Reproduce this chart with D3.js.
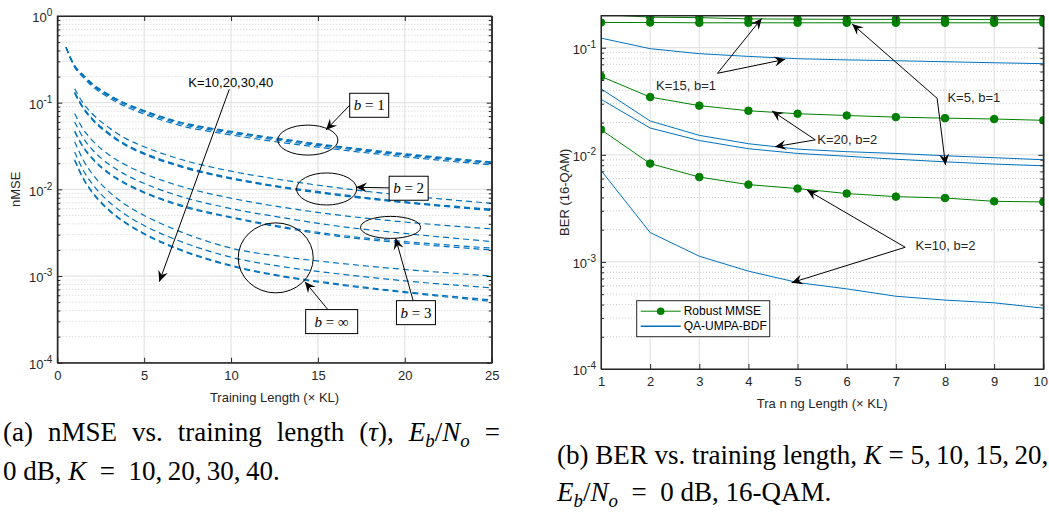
<!DOCTYPE html>
<html>
<head>
<meta charset="utf-8">
<script src="https://cdn.jsdelivr.net/npm/d3@7/dist/d3.min.js"></script>
<style>
  body { margin: 0; background: #fff; }
  svg { display: block; font-family: "Liberation Sans", Arial, sans-serif; }
</style>
</head>
<body>
<svg id="fig" width="1049" height="516"></svg>
<script>
// ---------- (a) nMSE vs. training length ----------
const lenB1 = [0.5, 1, 1.5, 2, 3, 4, 5, 7, 10, 13, 16, 20, 25];
const lenQ = [1, 1.5, 2, 3, 4, 5, 7, 10, 13, 16, 20, 25];
// one row per K = 10, 20, 30, 40
const nmseB1 = [
  [0.435, 0.255, 0.195, 0.155, 0.113, 0.089, 0.074, 0.055, 0.0425, 0.0345, 0.029, 0.0237, 0.0191],
  [0.435, 0.262, 0.202, 0.161, 0.118, 0.093, 0.0775, 0.0575, 0.0445, 0.0362, 0.0303, 0.0247, 0.0199],
  [0.435, 0.266, 0.206, 0.165, 0.121, 0.096, 0.080, 0.0595, 0.046, 0.0374, 0.0312, 0.0254, 0.0204],
  [0.435, 0.268, 0.208, 0.167, 0.123, 0.097, 0.081, 0.0603, 0.0467, 0.038, 0.0317, 0.0258, 0.0207]
];
const nmseB2 = [
  [0.145, 0.098, 0.075, 0.051, 0.038, 0.031, 0.0225, 0.0162, 0.0128, 0.0105, 0.0085, 0.0069],
  [0.132, 0.088, 0.066, 0.044, 0.0325, 0.0262, 0.019, 0.0136, 0.0107, 0.0089, 0.0072, 0.0059],
  [0.130, 0.0865, 0.065, 0.0432, 0.032, 0.0258, 0.0187, 0.0134, 0.0105, 0.0087, 0.0071, 0.0058],
  [0.128, 0.085, 0.064, 0.0425, 0.0315, 0.0254, 0.0184, 0.0132, 0.0104, 0.0086, 0.0070, 0.0057]
];
const nmseB3 = [
  [0.075, 0.049, 0.037, 0.0248, 0.0188, 0.0152, 0.011, 0.0079, 0.0062, 0.0051, 0.0042, 0.0035],
  [0.060, 0.039, 0.029, 0.0193, 0.0145, 0.0117, 0.0084, 0.006, 0.0047, 0.0038, 0.0031, 0.0025],
  [0.047, 0.031, 0.0232, 0.0154, 0.0116, 0.0093, 0.0067, 0.0048, 0.0037, 0.0030, 0.0025, 0.0021],
  [0.046, 0.0302, 0.0226, 0.015, 0.0113, 0.0091, 0.0065, 0.0047, 0.0036, 0.0029, 0.0024, 0.0020]
];
const nmseBinf = [
  [0.0355, 0.0217, 0.0152, 0.0093, 0.0065, 0.005, 0.0033, 0.0021, 0.00167, 0.00142, 0.00119, 0.0010],
  [0.027, 0.0165, 0.01163, 0.0071, 0.0050, 0.00382, 0.00255, 0.00165, 0.00128, 0.00107, 0.00088, 0.00073],
  [0.022, 0.0134, 0.00945, 0.00577, 0.00407, 0.0031, 0.00206, 0.00133, 0.0010, 0.00082, 0.00066, 0.00053],
  [0.0215, 0.0131, 0.0092, 0.00563, 0.00398, 0.00303, 0.00201, 0.0013, 0.00098, 0.0008, 0.000645, 0.00051]
];
const nmseTicks = [1e-4, 1e-3, 1e-2, 1e-1, 1];
const lenTicks = [0, 5, 10, 15, 20, 25];

// ---------- (b) BER vs. training length ----------
const berLen = [1, 2, 3, 4, 5, 6, 7, 8, 9, 10];
const mmseK15b1 = [0.205, 0.193, 0.191, 0.186, 0.185, 0.184, 0.184, 0.184, 0.183, 0.183];
const mmseK5b1  = [0.172, 0.172, 0.171, 0.171, 0.171, 0.171, 0.171, 0.171, 0.171, 0.171];
const mmseK20b2 = [0.054, 0.0346, 0.0288, 0.0258, 0.0242, 0.0233, 0.0225, 0.022, 0.0216, 0.021];
const mmseK10b2 = [0.0172, 0.00828, 0.0062, 0.00527, 0.00484, 0.00435, 0.00407, 0.00395, 0.00368, 0.00363];
const umpaK15b1 = [0.123, 0.098, 0.088, 0.083, 0.079, 0.077, 0.0756, 0.074, 0.0724, 0.071];
const umpaK20b2 = [0.0414, 0.0207, 0.0152, 0.0127, 0.0113, 0.0107, 0.0103, 0.0098, 0.0094, 0.009];
const umpaK5b1  = [0.033, 0.0178, 0.0136, 0.0114, 0.0103, 0.0097, 0.0091, 0.0086, 0.0082, 0.0079];
const umpaK10b2 = [0.00716, 0.00188, 0.00113, 0.00082, 0.000642, 0.00056, 0.000478, 0.00044, 0.000415, 0.00037];
const berTicks = [1e-4, 1e-3, 1e-2, 1e-1];

const blue = "#0072bd", green = "#008000", ink = "#262626";
const svg = d3.select("#fig");

function drawPanel(o) {
  const g = svg.append("g");
  const x = d3.scaleLinear().domain(o.xDomain).range([o.left, o.right]);
  const y = d3.scaleLog().domain(o.yDomain).range([o.bottom, o.top]);

  const minors = [];
  for (let e = -4; e < 1; e++) {
    for (let k = 2; k <= 9; k++) {
      const v = k * Math.pow(10, e);
      if (v > o.yDomain[0] && v < o.yDomain[1]) minors.push(v);
    }
  }
  g.append("rect").attr("x", o.left).attr("y", o.top)
    .attr("width", o.right - o.left).attr("height", o.bottom - o.top).attr("fill", "#fff");
  g.append("g").selectAll("line").data(minors).join("line")
    .attr("x1", o.left).attr("x2", o.right).attr("y1", d => y(d)).attr("y2", d => y(d))
    .attr("stroke", "#c4c4c4").attr("stroke-width", 0.8).attr("stroke-dasharray", "1,2");
  g.append("g").selectAll("line").data(o.yTicks).join("line")
    .attr("x1", o.left).attr("x2", o.right).attr("y1", d => y(d)).attr("y2", d => y(d))
    .attr("stroke", "#dedede");
  g.append("g").selectAll("line").data(o.xTicks).join("line")
    .attr("y1", o.top).attr("y2", o.bottom).attr("x1", d => x(d)).attr("x2", d => x(d))
    .attr("stroke", "#dedede");

  const clipId = "clip" + o.left;
  svg.append("clipPath").attr("id", clipId).append("rect")
    .attr("x", o.left).attr("y", o.top).attr("width", o.right - o.left).attr("height", o.bottom - o.top);
  const plot = svg.append("g").attr("clip-path", "url(#" + clipId + ")");
  return { g, x, y, minors, plot };
}

function drawAxes(p, o) {
  const { x, y, minors } = p;
  const a = svg.append("g");
  const style = sel => {
    sel.attr("font-family", null).attr("font-size", 13);
    sel.selectAll("path").attr("stroke", ink);
    sel.selectAll("line").attr("stroke", ink);
    sel.selectAll("text").attr("fill", ink);
  };
  const bottom = a.append("g").attr("transform", `translate(0,${o.bottom})`)
    .call(d3.axisBottom(x).tickValues(o.xTicks).tickSize(-5).tickSizeOuter(0).tickPadding(8).tickFormat(d3.format("d")))
    .call(style);
  // keep a label that would run past the page edge inside it
  bottom.selectAll(".tick text").each(function () {
    const t = d3.select(this);
    const tr = this.parentNode.transform.baseVal.consolidate().matrix.e;
    const half = this.getComputedTextLength() / 2;
    if (tr + half > 1048) t.attr("x", 1048 - half - tr);
  });
  a.append("g").attr("transform", `translate(0,${o.top})`)
    .call(d3.axisTop(x).tickValues(o.xTicks).tickSize(-5).tickSizeOuter(0).tickFormat(() => ""))
    .call(style);
  [[d3.axisLeft, o.left, -1], [d3.axisRight, o.right, 1]].forEach(([ax, pos, side]) => {
    a.append("g").attr("transform", `translate(${pos},0)`)
      .call(ax(y).tickValues(minors).tickSize(-3).tickSizeOuter(0).tickFormat(() => ""))
      .call(style);
    const major = a.append("g").attr("transform", `translate(${pos},0)`)
      .call(ax(y).tickValues(o.yTicks).tickSize(-5).tickSizeOuter(0).tickPadding(5).tickFormat(() => ""))
      .call(style);
    if (side < 0) {
      major.selectAll(".tick text").each(function (d) {
        const t = d3.select(this).attr("dy", "0.45em");
        t.append("tspan").text("10");
        t.append("tspan").attr("dy", "-0.6em").attr("font-size", 10)
          .text(String(Math.round(Math.log10(d))));
      });
    }
  });
  a.append("rect").attr("x", o.left).attr("y", o.top)
    .attr("width", o.right - o.left).attr("height", o.bottom - o.top)
    .attr("fill", "none").attr("stroke", ink).attr("stroke-width", 1);
  a.append("text").attr("x", (o.left + o.right) / 2).attr("y", o.xLabelY)
    .attr("text-anchor", "middle").attr("font-size", 13).attr("fill", ink).text(o.xLabel);
  a.append("text").attr("transform", `translate(${o.yLabelX},${(o.top + o.bottom) / 2}) rotate(-90)`)
    .attr("text-anchor", "middle").attr("font-size", 13).attr("fill", ink).text(o.yLabel);
}

function arrow(g, x1, y1, x2, y2) {
  g.append("line").attr("x1", x1).attr("y1", y1).attr("x2", x2).attr("y2", y2)
    .attr("stroke", "#000").attr("stroke-width", 1);
  const ang = Math.atan2(y2 - y1, x2 - x1) * 180 / Math.PI;
  g.append("path").attr("d", "M0,0 L-11,-5 L-7,0 L-11,5 Z")
    .attr("transform", `translate(${x2},${y2}) rotate(${ang})`).attr("fill", "#000");
}

// ===== panel (a) =====
const optA = {
  left: 57.3, right: 491.7, top: 16, bottom: 362.7,
  xDomain: [0, 25], yDomain: [1e-4, 1], xTicks: lenTicks, yTicks: nmseTicks,
  xLabel: "Training Length (\u00d7 KL)", yLabel: "nMSE", xLabelY: 402, yLabelX: 20
};
const pa = drawPanel(optA);
const lineA = d3.line().x(d => pa.x(d[0])).y(d => pa.y(d[1])).curve(d3.curveMonotoneX);
[[lenB1, nmseB1], [lenQ, nmseB2], [lenQ, nmseB3], [lenQ, nmseBinf]].forEach(([xs, rows]) => {
  rows.forEach(r => {
    pa.plot.append("path").datum(xs.map((v, i) => [v, r[i]]))
      .attr("d", lineA).attr("fill", "none").attr("stroke", blue)
      .attr("stroke-width", 1.2).attr("stroke-dasharray", "6,4");
  });
});
drawAxes(pa, optA);

// annotations of (a), anchored in data units
const ellipsesA = [
  { x: 14.42, v: 0.037, rx: 1.73, rd: 0.173 },
  { x: 15.5, v: 0.0101, rx: 1.73, rd: 0.185 },
  { x: 19.18, v: 0.00364, rx: 1.73, rd: 0.127 },
  { x: 12.57, v: 0.00162, rx: 2.16, rd: 0.404 }
];
const boxesA = [
  { b: "1", x: 17.95, v: 0.0933, tail: [16.84, 0.094], head: [15.46, 0.0484] },
  { b: "2", x: 20.22, v: 0.0103, tail: [19.1, 0.0104], head: [17.19, 0.01057] },
  { b: "3", x: 20.64, v: 0.000378, tail: [20.48, 0.00052], head: [19.47, 0.00273] },
  { b: "\u221e", x: 15.79, v: 0.000298, tail: [15.59, 0.000406], head: [14.25, 0.00086] }
];
const annA = svg.append("g");
ellipsesA.forEach(e => {
  const cy = pa.y(e.v);
  annA.append("ellipse").attr("cx", pa.x(e.x)).attr("cy", cy)
    .attr("rx", pa.x(e.x + e.rx) - pa.x(e.x)).attr("ry", cy - pa.y(e.v * Math.pow(10, e.rd)))
    .attr("fill", "none").attr("stroke", "#000").attr("stroke-width", 1);
});
boxesA.forEach(bx => {
  arrow(annA, pa.x(bx.tail[0]), pa.y(bx.tail[1]), pa.x(bx.head[0]), pa.y(bx.head[1]));
  const cx = pa.x(bx.x), cy = pa.y(bx.v);
  const w = bx.b === "\u221e" ? 52 : 39;
  annA.append("rect").attr("x", cx - w / 2).attr("y", cy - 12).attr("width", w).attr("height", 24)
    .attr("fill", "#fff").attr("stroke", "#000").attr("stroke-width", 1);
  const t = annA.append("text").attr("x", cx).attr("y", cy + 5).attr("text-anchor", "middle")
    .attr("font-family", "'Liberation Serif', serif").attr("font-size", 15);
  t.append("tspan").attr("font-style", "italic").text("b");
  t.append("tspan").text(" = " + bx.b);
});
annA.append("text").attr("x", pa.x(7.54)).attr("y", pa.y(0.173) + 5)
  .attr("font-size", 13).attr("fill", "#000").text("K=10,20,30,40");
arrow(annA, pa.x(9.9), pa.y(0.1428), pa.x(5.87), pa.y(0.00086));

// ===== panel (b) =====
const optB = {
  left: 601, right: 1043.3, top: 15.5, bottom: 369,
  xDomain: [1, 10], yDomain: [1e-4, 0.2], xTicks: berLen, yTicks: berTicks,
  xLabel: "Tra n ng Length (\u00d7 KL)", yLabel: "BER (16-QAM)", xLabelY: 408, yLabelX: 569
};
const pb = drawPanel(optB);
const lineB = d3.line().x(d => pb.x(d[0])).y(d => pb.y(d[1]));
[umpaK15b1, umpaK20b2, umpaK5b1, umpaK10b2].forEach(r => {
  pb.plot.append("path").datum(berLen.map((v, i) => [v, r[i]]))
    .attr("d", lineB).attr("fill", "none").attr("stroke", blue).attr("stroke-width", 1);
});
[mmseK15b1, mmseK5b1, mmseK20b2, mmseK10b2].forEach(r => {
  const pts = berLen.map((v, i) => [v, r[i]]);
  pb.plot.append("path").datum(pts)
    .attr("d", lineB).attr("fill", "none").attr("stroke", green).attr("stroke-width", 1);
  pb.plot.selectAll(null).data(pts.filter(d => d[1] <= 0.2)).join("circle")
    .attr("cx", d => pb.x(d[0])).attr("cy", d => pb.y(d[1])).attr("r", 3.8)
    .attr("fill", green).attr("stroke", green);
});
drawAxes(pb, optB);

const notesB = [
  { text: "K=15, b=1", x: 2.12, v: 0.0449, tail: [3.37, 0.0577], heads: [[4.27, 0.188], [4.75, 0.078]] },
  { text: "K=5, b=1", x: 8.05, v: 0.0347, tail: [7.84, 0.0337], heads: [[6.11, 0.1667], [8.01, 0.00804]] },
  { text: "K=20, b=2", x: 5.40, v: 0.01396, tail: [5.36, 0.0138], heads: [[4.48, 0.0257], [4.54, 0.0119]] },
  { text: "K=10, b=2", x: 7.40, v: 0.00144, tail: [7.19, 0.00137], heads: [[5.19, 0.0047], [4.88, 0.00064]] }
];
const annB = svg.append("g");
notesB.forEach(n => {
  n.heads.forEach(h => arrow(annB, pb.x(n.tail[0]), pb.y(n.tail[1]), pb.x(h[0]), pb.y(h[1])));
  annB.append("text").attr("x", pb.x(n.x)).attr("y", pb.y(n.v) + 5)
    .attr("font-size", 13).attr("fill", ink).text(n.text);
});

// legend
const leg = svg.append("g").attr("transform", "translate(636.7,300.7)");
leg.append("rect").attr("width", 133).attr("height", 36).attr("fill", "#fff")
  .attr("stroke", ink).attr("stroke-width", 1);
[["Robust MMSE", green, true, 10.5], ["QA-UMPA-BDF", blue, false, 25.5]].forEach(([name, c, dot, yy]) => {
  leg.append("line").attr("x1", 4).attr("x2", 44).attr("y1", yy).attr("y2", yy)
    .attr("stroke", c).attr("stroke-width", dot ? 1 : 1.6);
  if (dot) leg.append("circle").attr("cx", 24).attr("cy", yy).attr("r", 3.8).attr("fill", c);
  leg.append("text").attr("x", 47).attr("y", yy + 4).attr("font-size", 12).attr("fill", "#000").text(name);
});

// ===== captions =====
const capFont = "'Liberation Serif', 'Times New Roman', serif";
const capSize = 27;
function segs(text, parts) {
  let low = false;
  parts.forEach(p => {
    const ts = text.append("tspan").text(p.t);
    if (p.i) ts.attr("font-style", "italic");
    if (p.sub && !low) { ts.attr("dy", 6).attr("font-size", capSize * 0.7); low = true; }
    else if (p.sub) ts.attr("font-size", capSize * 0.7);
    else if (low) { ts.attr("dy", -6); low = false; }
  });
  return text;
}
function capText(x, y) {
  return svg.append("text").attr("x", x).attr("y", y)
    .attr("font-family", capFont).attr("font-size", capSize).attr("fill", "#000");
}
const EbNo = [{ t: "E", i: 1 }, { t: "b", i: 1, sub: 1 }, { t: "/" }, { t: "N", i: 1 }, { t: "o", i: 1, sub: 1 }];
const capA1 = [[{ t: "(a)" }], [{ t: "nMSE" }], [{ t: "vs." }], [{ t: "training" }], [{ t: "length" }],
  [{ t: "(" }, { t: "\u03c4", i: 1 }, { t: ")," }], EbNo, [{ t: "=" }]];
// justified first line of caption (a)
const words = capA1.map(w => segs(capText(0, 441), w));
const widths = words.map(w => w.node().getComputedTextLength());
const gap = (500 - 3 - d3.sum(widths)) / (words.length - 1);
let cx = 3;
words.forEach((w, i) => { w.attr("x", cx); cx += widths[i] + gap; });
segs(capText(3, 480), [{ t: "0 dB, " }, { t: "K", i: 1 }, { t: "\u2002=\u200210,\u200920,\u200930,\u200940." }]);
segs(capText(557, 464), [{ t: "(b) BER vs. training length, " }, { t: "K", i: 1 }, { t: " = 5,\u200910,\u200915,\u200920," }]);
segs(capText(557, 501), EbNo.concat([{ t: "\u2002=\u20020 dB, 16-QAM." }]));
</script>
</body>
</html>
